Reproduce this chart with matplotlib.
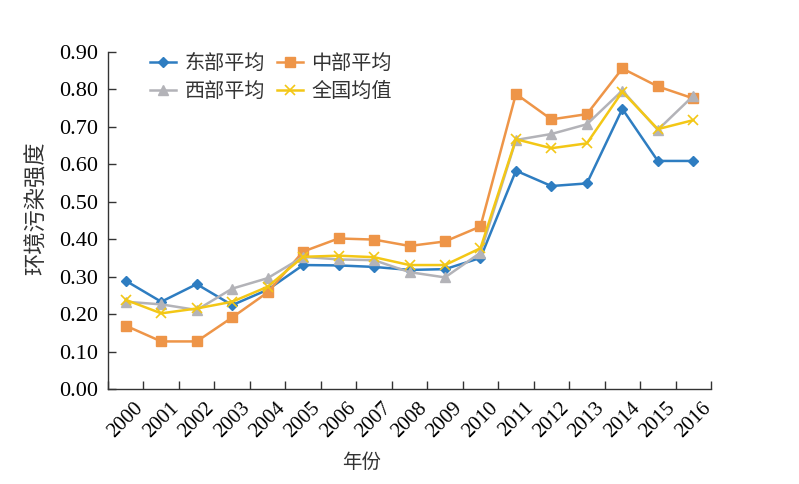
import matplotlib
matplotlib.use("Agg")
import matplotlib.pyplot as plt
import numpy as np

plt.rcParams['font.family'] = ['Liberation Serif', 'Noto Sans CJK SC']

years = [str(y) for y in range(2000, 2017)]
east = [0.289, 0.233, 0.280, 0.224, 0.265, 0.331, 0.330, 0.326, 0.318, 0.320,
        0.350, 0.583, 0.542, 0.549, 0.748, 0.609, 0.609]
middle = [0.169, 0.127, 0.127, 0.191, 0.258, 0.367, 0.402, 0.399, 0.382, 0.394,
          0.434, 0.788, 0.720, 0.734, 0.856, 0.808, 0.776]
west = [0.233, 0.226, 0.211, 0.268, 0.296, 0.353, 0.346, 0.344, 0.312, 0.298,
        0.364, 0.665, 0.681, 0.707, 0.797, 0.692, 0.783]
national = [0.238, 0.202, 0.215, 0.233, 0.273, 0.353, 0.356, 0.352, 0.331, 0.331,
            0.376, 0.667, 0.643, 0.656, 0.794, 0.694, 0.718]
series_names = ["东部平均", "中部平均", "西部平均", "全国均值"]

fig = plt.figure(figsize=(7.99, 4.84), dpi=100)
ax = fig.add_axes([0.1352, 0.1963, 0.7547, 0.6963])

x = np.arange(len(years))
h_e, = ax.plot(x, east, color="#2e7dc1", lw=1.8, marker="D", ms=5, label=series_names[0])
h_m, = ax.plot(x, middle, color="#ee9548", lw=1.8, marker="s", ms=7, label=series_names[1])
h_w, = ax.plot(x, west, color="#b3b3b8", lw=1.8, marker="^", ms=7, label=series_names[2])
h_n, = ax.plot(x, national, color="#f3c716", lw=1.8, marker="x", ms=7, mew=1.2, label=series_names[3])

ax.set_xlim(-0.5, len(years) - 0.5)
ax.set_ylim(0, 0.9)
yt = np.arange(0, 0.91, 0.1)
ax.set_yticks(yt)
ax.set_yticklabels([f"{v:.2f}" for v in yt], fontsize=16)

ax.set_xticks(x)
ax.set_xticklabels(years, rotation=45, ha="center", va="top", fontsize=15)
ax.set_xticks(np.arange(-0.5, len(years)), minor=True)
ax.tick_params(axis="x", which="major", length=0, pad=7)
ax.tick_params(axis="x", which="minor", direction="in", length=6, width=1, colors="#333333")
ax.tick_params(axis="y", direction="in", length=6, width=1, pad=7, color="#333333")

for side in ["top", "right"]:
    ax.spines[side].set_visible(False)
for side in ["left", "bottom"]:
    ax.spines[side].set_color("#333333")
    ax.spines[side].set_linewidth(1)

ax.set_ylabel("环境污染强度", fontsize=16, color="#333333")
ax.yaxis.set_label_coords(-0.10, 0.537)
ax.set_xlabel("年份", fontsize=14, color="#333333")
ax.xaxis.set_label_coords(0.421, -0.19)

# legend fills row-wise in the reference: east, middle / west, national
ax.legend([h_e, h_w, h_m, h_n],
          [series_names[0], series_names[2], series_names[1], series_names[3]],
          ncol=2, loc="upper left", bbox_to_anchor=(0.04, 1.045), frameon=False,
          fontsize=14.5, handlelength=1.3, columnspacing=0.6, handletextpad=0.4,
          labelspacing=0.45, labelcolor="#333333")

fig.savefig("out.png", dpi=100)
